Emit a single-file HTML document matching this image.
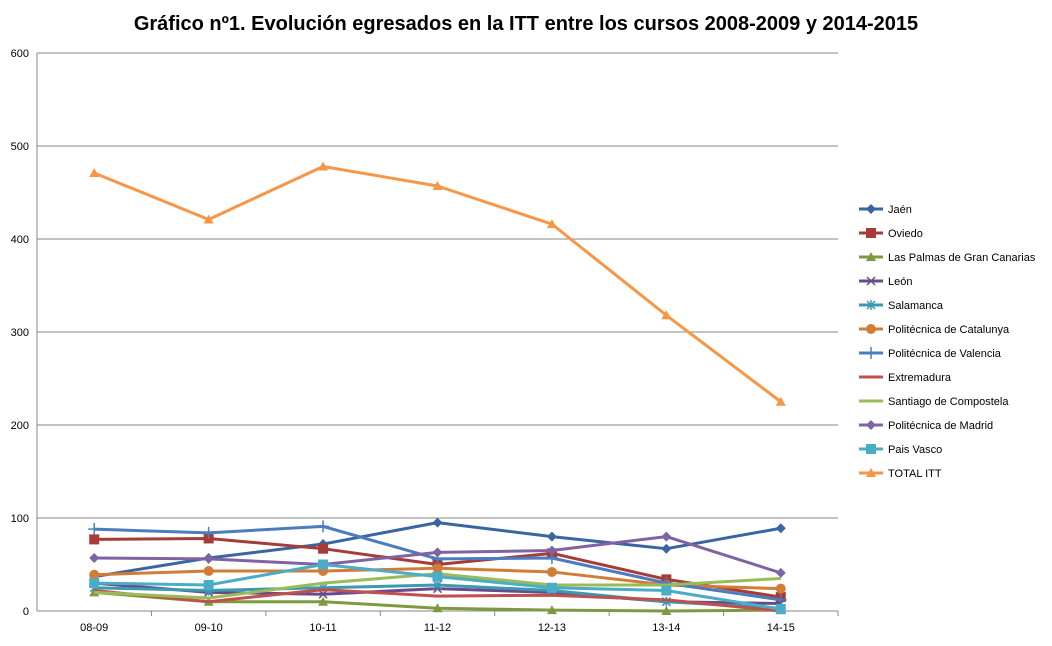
<!DOCTYPE html>
<html><head><meta charset="utf-8"><style>
body{margin:0;background:#fff;font-family:"Liberation Sans",sans-serif;}
</style></head><body>
<svg id="c" width="1052" height="641" xmlns="http://www.w3.org/2000/svg">
<text x="526" y="30" text-anchor="middle" font-size="20" font-weight="bold" fill="#000">Gráfico nº1. Evolución egresados en la ITT entre los cursos 2008-2009 y 2014-2015</text>
</svg>
<script>
const categories=["08-09","09-10","10-11","11-12","12-13","13-14","14-15"];
const yTicks=[0,100,200,300,400,500,600];
const seriesNames=["Jaén","Oviedo","Las Palmas  de Gran Canarias","León","Salamanca","Politécnica de Catalunya","Politécnica de Valencia","Extremadura","Santiago de Compostela","Politécnica de Madrid","Pais Vasco","TOTAL ITT"];
const jaen=[37,57,72,95,80,67,89];
const oviedo=[77,78,67,50,62,34,15];
const lasPalmas=[20,10,10,3,1,0,1];
const leon=[30,20,18,24,20,10,8];
const salamanca=[25,22,25,28,22,10,3];
const catalunya=[39,43,43,46,42,28,24];
const valencia=[88,84,91,56,57,30,12];
const extremadura=[22,10,23,16,17,12,0];
const santiago=[20,14,30,40,28,28,35];
const madrid=[57,56,50,63,65,80,41];
const paisVasco=[30,28,50,37,25,22,2];
const total=[471,421,478,457,416,318,225];
const seriesValues=[jaen,oviedo,lasPalmas,leon,salamanca,catalunya,valencia,extremadura,santiago,madrid,paisVasco,total];
const colors=["#3a65a0","#a63c38","#7f9a3e","#6a4b8a","#3b9ab0","#d27d35","#4a7cbf","#c0504d","#9bbb59","#8064a2","#4bacc6","#f79646"];
const markers=["diamond","square","triangle","x","star","circle","plus","none","none","diamond","square","triangle"];
const svg=document.getElementById('c');const NS="http://www.w3.org/2000/svg";
const X0=37,X1=838,Y0=611,Y1=53;
const xs=i=>X0+(X1-X0)*(i+0.5)/categories.length;
const ys=v=>Y0-(Y0-Y1)*v/600;
function mk(t,a,p){const e=document.createElementNS(NS,t);for(const k in a)e.setAttribute(k,a[k]);(p||svg).appendChild(e);return e;}
yTicks.forEach(t=>{const y=ys(t);
const g=mk('line',{x1:X0,x2:X1,y1:y,y2:y,stroke:'#868686','stroke-width':1});


const l=mk('text',{x:X0-8,y:y+4,'text-anchor':'end','font-size':11,fill:'#000'});l.textContent=t;

});
mk('line',{x1:X0,x2:X0,y1:Y1,y2:Y0,stroke:'#868686'});
categories.forEach((c,i)=>{const x=xs(i);
const tk=mk('line',{x1:X0+(X1-X0)*(i+1)/categories.length,x2:X0+(X1-X0)*(i+1)/categories.length,y1:Y0,y2:Y0+5,stroke:'#868686'});
const l=mk('text',{x:x,y:Y0+20,'text-anchor':'middle','font-size':11,fill:'#000'});l.textContent=c;

});
function marker(type,x,y,col,g){
 if(type==='diamond')mk('polygon',{points:`${x},${y-5} ${x+5},${y} ${x},${y+5} ${x-5},${y}`,fill:col},g);
 else if(type==='square')mk('rect',{x:x-5,y:y-5,width:10,height:10,fill:col},g);
 else if(type==='triangle')mk('polygon',{points:`${x},${y-5} ${x+5},${y+4} ${x-5},${y+4}`,fill:col},g);
 else if(type==='circle')mk('circle',{cx:x,cy:y,r:5,fill:col},g);
 else if(type==='x')mk('path',{d:`M${x-4} ${y-4}L${x+4} ${y+4}M${x-4} ${y+4}L${x+4} ${y-4}`,stroke:col,'stroke-width':1.5},g);
 else if(type==='star')mk('path',{d:`M${x-4} ${y-4}L${x+4} ${y+4}M${x-4} ${y+4}L${x+4} ${y-4}M${x} ${y-5}V${y+5}`,stroke:col,'stroke-width':1.5},g);
 else if(type==='plus')mk('path',{d:`M${x-6} ${y}H${x+6}M${x} ${y-6}V${y+6}`,stroke:col,'stroke-width':1.5},g);
}
seriesValues.forEach((vals,s)=>{
 const g=mk('g',{});
 
 
 mk('polyline',{points:vals.map((v,i)=>xs(i)+','+ys(v)).join(' '),fill:'none',stroke:colors[s],'stroke-width':3,'stroke-linejoin':'round'},g);
 vals.forEach((v,i)=>marker(markers[s],xs(i),ys(v),colors[s],g));
 const ly=209+24*s;
 const lg=mk('g',{});
 
 
 mk('line',{x1:859,x2:883,y1:ly,y2:ly,stroke:colors[s],'stroke-width':3},lg);
 marker(markers[s],871,ly,colors[s],lg);
 const t=mk('text',{x:888,y:ly+4,'font-size':11,fill:'#000'},lg);t.textContent=seriesNames[s];
});
</script>
</body></html>
